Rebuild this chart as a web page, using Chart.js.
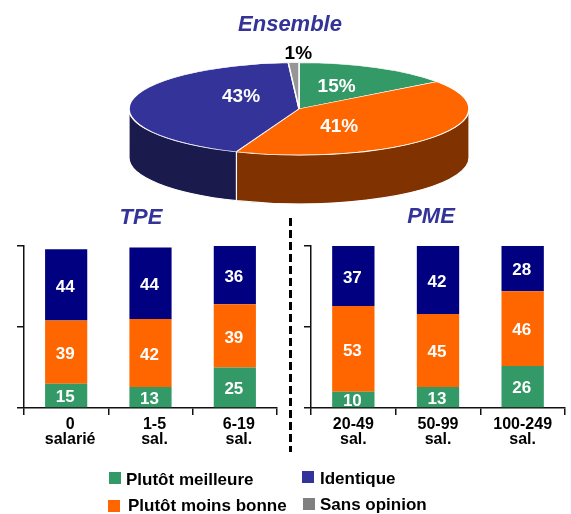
<!DOCTYPE html>
<html lang="fr">
<head>
<meta charset="utf-8">
<title>Ensemble, TPE, PME</title>
<script src="https://cdn.jsdelivr.net/npm/chart.js@4"></script>
<style>
  html, body { margin: 0; padding: 0; background: #fff; }
  #page { position: relative; width: 571px; height: 514px; overflow: hidden; font-family: "Liberation Sans", Arial, sans-serif; }
  canvas { position: absolute; }
  .title { position: absolute; width: 160px; margin-left: -80px; text-align: center; font-weight: bold; font-style: italic; font-size: 22px; line-height: 24px; color: #333399; }
  .sep { position: absolute; left: 289px; top: 218px; width: 3px; height: 234px; background: repeating-linear-gradient(to bottom, #000 0 8px, transparent 8px 12px); }
  .swatch { position: absolute; width: 12px; height: 12px; }
  .leg { position: absolute; font-weight: bold; font-size: 17px; line-height: 18px; color: #000; white-space: nowrap; }
</style>
</head>
<body>
<div id="page">
  <canvas id="pie" width="571" height="514" style="left:0;top:0"></canvas>
  <div class="sep"></div>
  <canvas id="tpe" width="285" height="230" style="left:0;top:230px"></canvas>
  <canvas id="pme" width="286" height="230" style="left:285px;top:230px"></canvas>
  <div class="title" style="left:290px;top:12px">Ensemble</div>
  <div class="title" style="left:141px;top:205px">TPE</div>
  <div class="title" style="left:431px;top:204px">PME</div>
  <div class="swatch" style="left:109px;top:472px;background:#339966"></div>
  <div class="leg" style="left:126px;top:471px">Plutôt meilleure</div>
  <div class="swatch" style="left:108px;top:500px;background:#FF6600"></div>
  <div class="leg" style="left:128px;top:497px">Plutôt moins bonne</div>
  <div class="swatch" style="left:302px;top:471px;background:#333399"></div>
  <div class="leg" style="left:320px;top:470px">Identique</div>
  <div class="swatch" style="left:303px;top:498px;background:#808080"></div>
  <div class="leg" style="left:320px;top:496px">Sans opinion</div>
</div>

<script>
const pieNames = ['Plutôt meilleure', 'Plutôt moins bonne', 'Identique', 'Sans opinion'];
const pieValues = [15, 41, 43, 1];

const tpeCategories = [['0', 'salarié'], ['1-5', 'sal.'], ['6-19', 'sal.']];
const tpeMeilleure = [15, 13, 25];
const tpeMoinsBonne = [39, 42, 39];
const tpeIdentique = [44, 44, 36];

const pmeCategories = [['20-49', 'sal.'], ['50-99', 'sal.'], ['100-249', 'sal.']];
const pmeMeilleure = [10, 13, 26];
const pmeMoinsBonne = [53, 45, 46];
const pmeIdentique = [37, 42, 28];

const FONT = '"Liberation Sans", Arial, sans-serif';
const GREEN = '#339966', ORANGE = '#FF6600', INDIGO = '#333399', GREY = '#969696', NAVY = '#000080';

// squash the pie and give it a side wall
const TILT = 0.271, PIE_Y = 108.8, DEPTH = 49;
const wallColors = ['#1a4d33', '#803300', '#1a1a4d', '#4b4b4b'];
const pieLabelShift = [[-1, -2], [-27, 4], [26, -8], [2, -32]];

const tiltPlugin = {
  id: 'tilt',
  beforeDatasetsDraw(chart) {
    const ctx = chart.ctx;
    const arcs = chart.getDatasetMeta(0).data;
    arcs.forEach((arc, i) => {
      const a0 = Math.max(arc.startAngle, 0);
      const a1 = Math.min(arc.endAngle, Math.PI);
      if (a1 <= a0) return;
      const rx = arc.outerRadius, ry = rx * TILT;
      ctx.save();
      ctx.beginPath();
      ctx.ellipse(arc.x, PIE_Y, rx, ry, 0, a0, a1);
      ctx.ellipse(arc.x, PIE_Y + DEPTH, rx, ry, 0, a1, a0, true);
      ctx.closePath();
      ctx.fillStyle = wallColors[i];
      ctx.fill();
      ctx.strokeStyle = '#fff';
      ctx.lineWidth = 1.2;
      ctx.stroke();
      ctx.restore();
    });
    const first = arcs[0];
    ctx.save();
    ctx.translate(0, PIE_Y);
    ctx.scale(1, TILT);
    ctx.translate(0, -first.y);
  },
  afterDatasetsDraw(chart) {
    const ctx = chart.ctx;
    ctx.restore();
    const arcs = chart.getDatasetMeta(0).data;
    ctx.save();
    ctx.font = 'bold 19px ' + FONT;
    ctx.textAlign = 'center';
    ctx.textBaseline = 'middle';
    arcs.forEach((arc, i) => {
      const c = arc.getCenterPoint();
      const y = PIE_Y + (c.y - arc.y) * TILT;
      ctx.fillStyle = i === 3 ? '#000' : '#fff';
      ctx.fillText(pieValues[i] + '%', c.x + pieLabelShift[i][0], y + pieLabelShift[i][1]);
    });
    ctx.restore();
  }
};

new Chart(document.getElementById('pie'), {
  type: 'pie',
  data: {
    labels: pieNames,
    datasets: [{
      data: pieValues,
      backgroundColor: [GREEN, ORANGE, INDIGO, GREY],
      borderColor: '#fff',
      borderWidth: 1.5
    }]
  },
  options: {
    responsive: false,
    animation: false,
    radius: 170,
    layout: { padding: { left: 27 } },
    plugins: { legend: { display: false }, tooltip: { enabled: false } }
  },
  plugins: [tiltPlugin]
});

// numbers inside the stacked bars
const barLabelPlugin = {
  id: 'barLabels',
  afterDatasetsDraw(chart) {
    const ctx = chart.ctx;
    ctx.save();
    ctx.font = 'bold 17px ' + FONT;
    ctx.fillStyle = '#fff';
    ctx.textAlign = 'center';
    ctx.textBaseline = 'middle';
    chart.data.datasets.forEach((ds, d) => {
      chart.getDatasetMeta(d).data.forEach((bar, i) => {
        const p = bar.getCenterPoint();
        ctx.fillText(ds.data[i], p.x - 1, p.y + 2);
      });
    });
    ctx.restore();
  }
};

function drawStack(id, categories, meilleure, moinsBonne, identique, padding, labelOffset) {
  new Chart(document.getElementById(id), {
    type: 'bar',
    data: {
      labels: categories,
      datasets: [
        { label: pieNames[0], data: meilleure, backgroundColor: GREEN },
        { label: pieNames[1], data: moinsBonne, backgroundColor: ORANGE },
        { label: pieNames[2], data: identique, backgroundColor: NAVY }
      ]
    },
    options: {
      responsive: false,
      animation: false,
      layout: { padding: padding },
      datasets: { bar: { categoryPercentage: 1, barPercentage: 0.5 } },
      plugins: { legend: { display: false }, tooltip: { enabled: false } },
      scales: {
        x: {
          stacked: true,
          border: { color: '#111', width: 1.5 },
          grid: { drawOnChartArea: false, color: '#111', lineWidth: 1.5, tickLength: 7 },
          ticks: {
            color: '#000',
            maxRotation: 0,
            autoSkip: false,
            padding: 2,
            labelOffset: labelOffset,
            font: { family: FONT, size: 16, weight: 'bold', lineHeight: 0.94 }
          },
          afterFit: s => { s.height = 52; }
        },
        y: {
          stacked: true,
          min: 0,
          max: 100,
          border: { color: '#111', width: 1.5 },
          grid: { drawOnChartArea: false, color: '#111', lineWidth: 1.5, tickLength: 7 },
          ticks: { display: false, stepSize: 50 },
          afterFit: s => { s.width = 7; }
        }
      }
    },
    plugins: [barLabelPlugin]
  });
}

drawStack('tpe', tpeCategories, tpeMeilleure, tpeMoinsBonne, tpeIdentique, { left: 17, right: 8, top: 16, bottom: 0 }, 4);
drawStack('pme', pmeCategories, pmeMeilleure, pmeMoinsBonne, pmeIdentique, { left: 19, right: 6, top: 16, bottom: 0 }, 0);
</script>
</body>
</html>
